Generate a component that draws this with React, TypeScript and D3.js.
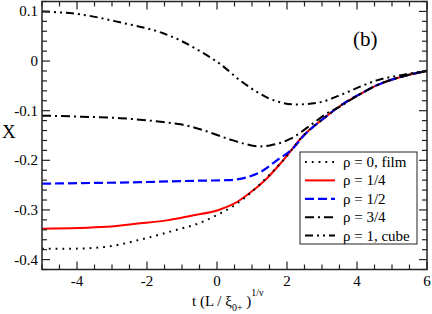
import { useEffect, useRef } from "react";
import * as d3 from "d3";

// rho = 0, film (dotted)
const filmT = [-5, -4.11, -3.14, -2.2, -1.25, -0.49, 0.09, 0.47, 0.8, 1.2, 1.89, 2.47, 3.04, 3.61, 4.18, 4.56, 5.3, 6];
const filmX = [-0.378, -0.378, -0.374, -0.36, -0.342, -0.326, -0.307, -0.292, -0.275, -0.25, -0.2, -0.15, -0.116, -0.086, -0.063, -0.049, -0.031, -0.02];

// rho = 1/4 (red solid)
const quarterT = [-5, -3.14, -2.2, -1.43, -0.77, 0.09, 0.5, 0.86, 1.43, 1.89, 2.47, 3.04, 3.61, 4.18, 4.56, 5.3, 6];
const quarterX = [-0.338, -0.334, -0.327, -0.321, -0.312, -0.299, -0.287, -0.27, -0.236, -0.2, -0.15, -0.116, -0.086, -0.063, -0.049, -0.031, -0.02];

// rho = 1/2 (blue dashed)
const halfT = [-5, -2.2, -0.5, 0.29, 0.86, 1.23, 1.71, 2.17, 2.47, 3.04, 3.61, 4.18, 4.56, 5.3, 6];
const halfX = [-0.247, -0.244, -0.241, -0.24, -0.234, -0.224, -0.2, -0.176, -0.151, -0.116, -0.086, -0.063, -0.049, -0.031, -0.02];

// rho = 3/4 (dash-dot)
const threeQT = [-5, -3.9, -2.77, -1.54, -1.0, -0.69, 0.29, 0.8, 1.2, 1.51, 2.09, 2.66, 3.13, 3.51, 3.8, 4.18, 4.56, 5.3, 6];
const threeQX = [-0.11, -0.112, -0.115, -0.123, -0.128, -0.133, -0.156, -0.167, -0.172, -0.17, -0.157, -0.13, -0.106, -0.092, -0.079, -0.063, -0.049, -0.031, -0.02];

// rho = 1, cube (dash-dot-dot)
const cubeT = [-5, -3.9, -2.77, -1.54, -1.06, -0.49, 0.09, 0.66, 1.23, 1.51, 2.28, 2.94, 3.61, 4.18, 4.56, 5.3, 6];
const cubeX = [0.1, 0.094, 0.078, 0.056, 0.042, 0.02, -0.006, -0.039, -0.066, -0.076, -0.0875, -0.083, -0.066, -0.049, -0.039, -0.028, -0.019];

const xTicks = [-4, -2, 0, 2, 4, 6];
const yTicks = [-0.4, -0.3, -0.2, -0.1, 0, 0.1];
const yTickLabels = ["-0.4", "-0.3", "-0.2", "-0.1", "0", "0.1"];

const series = [
  { label: "ρ = 0, film", t: filmT, v: filmX, color: "#000", width: 2, dash: "1.8,5" },
  { label: "ρ = 1/4", t: quarterT, v: quarterX, color: "#ff0000", width: 2, dash: "" },
  { label: "ρ = 1/2", t: halfT, v: halfX, color: "#0000ff", width: 2.2, dash: "9,4" },
  { label: "ρ = 3/4", t: threeQT, v: threeQX, color: "#000", width: 2, dash: "9,4,2,4" },
  { label: "ρ = 1, cube", t: cubeT, v: cubeX, color: "#000", width: 2, dash: "8,4,2,4,2,4" },
];

const FONT = "'Liberation Serif', Tinos, 'Times New Roman', Times, 'DejaVu Serif', serif";

export default function App() {
  const ref = useRef<SVGSVGElement | null>(null);

  useEffect(() => {
    if (!ref.current) return;
    const svg = d3.select(ref.current);
    svg.selectAll("*").remove();

    const width = 432;
    const height = 314;
    const margin = { top: 1.5, right: 5, bottom: 44.5, left: 42 };

    const x = d3.scaleLinear().domain([-5, 6]).range([margin.left, width - margin.right]);
    const y = d3.scaleLinear().domain([-0.42, 0.12]).range([height - margin.bottom, margin.top]);

    svg.append("rect").attr("width", width).attr("height", height).attr("fill", "#fff");

    const defs = svg.append("defs");
    defs.append("clipPath").attr("id", "plot-clip")
      .append("rect")
      .attr("x", margin.left).attr("y", margin.top)
      .attr("width", x(6) - x(-5)).attr("height", y(-0.42) - y(0.12));

    const line = d3.line<[number, number]>()
      .x(d => x(d[0]))
      .y(d => y(d[1]))
      .curve(d3.curveMonotoneX);

    const plot = svg.append("g").attr("clip-path", "url(#plot-clip)");
    // red first, blue over it, black curves on top
    const order = [1, 2, 0, 3, 4];
    order.forEach(i => {
      const s = series[i];
      const pts: [number, number][] = s.t.map((t, j) => [t, s.v[j]]);
      plot.append("path")
        .attr("d", line(pts) ?? "")
        .attr("fill", "none")
        .attr("stroke", s.color)
        .attr("stroke-width", s.width)
        .attr("stroke-dasharray", s.dash || null);
    });

    // Frame
    const x0 = x(-5), x1 = x(6), y0 = y(-0.42), y1 = y(0.12);
    svg.append("rect")
      .attr("x", x0).attr("y", y1)
      .attr("width", x1 - x0).attr("height", y0 - y1)
      .attr("fill", "none").attr("stroke", "#222").attr("stroke-width", 1.5);

    const ticks = svg.append("g").attr("stroke", "#222").attr("stroke-width", 1.2);
    // x ticks (major every 2, minor every 0.5)
    for (let k = -10; k <= 12; k++) {
      const t = k / 2;
      const major = xTicks.includes(t);
      const len = major ? 8 : 5;
      ticks.append("line").attr("x1", x(t)).attr("x2", x(t)).attr("y1", y0).attr("y2", y0 - len);
      ticks.append("line").attr("x1", x(t)).attr("x2", x(t)).attr("y1", y1).attr("y2", y1 + len);
    }
    // y ticks (major every 0.1, minor every 0.02)
    for (let k = -21; k <= 6; k++) {
      const v = k / 50;
      const major = k % 5 === 0;
      const len = major ? 8 : 5;
      ticks.append("line").attr("x1", x0).attr("x2", x0 + len).attr("y1", y(v)).attr("y2", y(v));
      ticks.append("line").attr("x1", x1).attr("x2", x1 - len).attr("y1", y(v)).attr("y2", y(v));
    }

    const txt = (sel: d3.Selection<SVGTextElement, any, any, any>, size: number) =>
      sel.style("font-family", FONT).style("font-size", `${size}px`).attr("fill", "#000");

    // tick labels
    txt(svg.append("g").selectAll<SVGTextElement, number>("text")
      .data(xTicks)
      .enter()
      .append("text")
      .attr("x", d => x(d))
      .attr("y", y0 + 16)
      .attr("text-anchor", "middle")
      .text(d => String(d)), 15);

    txt(svg.append("g").selectAll<SVGTextElement, number>("text")
      .data(yTicks)
      .enter()
      .append("text")
      .attr("x", x0 - 4)
      .attr("y", d => y(d) + 5)
      .attr("text-anchor", "end")
      .text((d, i) => yTickLabels[i]), 15);

    // Y label
    txt(svg.append("text")
      .attr("x", 2)
      .attr("y", 138)
      .text("Χ"), 19);

    // X label
    const xl = txt(svg.append("text")
      .attr("x", 192)
      .attr("y", 306), 15);
    xl.append("tspan").text("t (L / ξ");
    xl.append("tspan").style("font-size", "10px").attr("dy", 5).text("0+");
    xl.append("tspan").attr("dy", -5).text(" )");
    xl.append("tspan").style("font-size", "10px").attr("dy", -10).text("1/ν");

    // Panel tag
    txt(svg.append("text")
      .attr("x", 353)
      .attr("y", 46)
      .text("(b)"), 21);

    // Legend
    const lg = svg.append("g");
    lg.append("rect")
      .attr("x", 300).attr("y", 152)
      .attr("width", 117).attr("height", 92)
      .attr("fill", "#fff").attr("stroke", "#222").attr("stroke-width", 1);
    series.forEach((s, i) => {
      const ly = 162 + i * 18.4;
      lg.append("line")
        .attr("x1", 305).attr("x2", 335)
        .attr("y1", ly).attr("y2", ly)
        .attr("stroke", s.color)
        .attr("stroke-width", s.width)
        .attr("stroke-dasharray", s.dash || null);
      txt(lg.append("text")
        .attr("x", 343)
        .attr("y", ly + 5)
        .text(s.label), 15);
    });
  }, []);

  return (
    <div style={{ position: "absolute", left: 0, top: 0 }}>
      <svg ref={ref} width={432} height={314} style={{ display: "block" }} />
    </div>
  );
}
